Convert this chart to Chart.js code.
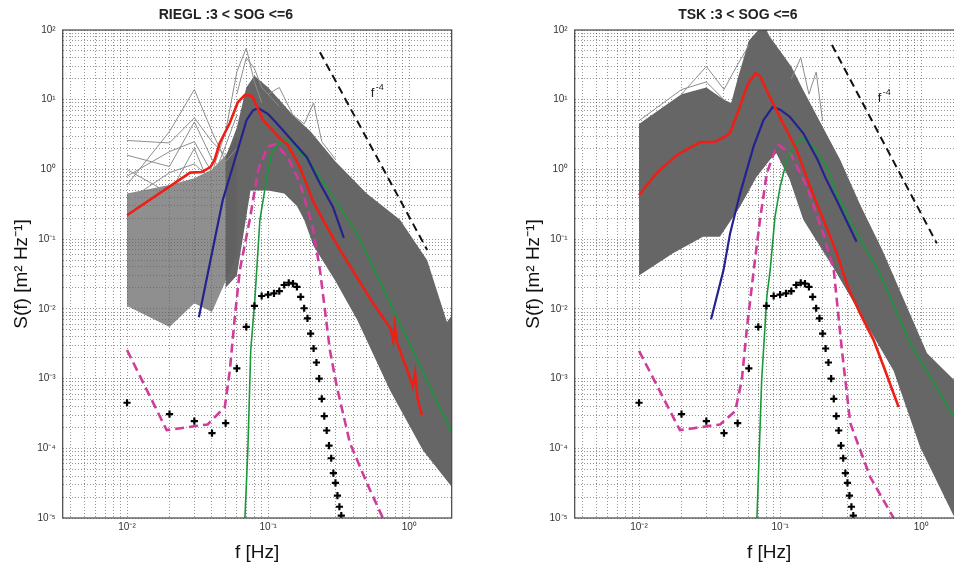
<!DOCTYPE html>
<html>
<head>
<meta charset="utf-8">
<script src="https://cdn.jsdelivr.net/npm/chart.js@4.4.0/dist/chart.umd.min.js"></script>
<style>
  html, body { margin: 0; padding: 0; background: #fff; width: 954px; height: 562px; overflow: hidden; }
  .panel { position: absolute; top: 0; width: 477px; height: 562px; }
  #p1 { left: 0; }
  #p2 { left: 512px; }
</style>
</head>
<body>
<div class="panel" id="p1"><canvas id="riegl" width="477" height="562"></canvas></div>
<div class="panel" id="p2"><canvas id="tsk" width="477" height="562"></canvas></div>
<script>
// ---- data (f in Hz, S in m^2/Hz) ----

// black "+" markers, same frequency grid on both panels
const plusFreq = [0.01, 0.02, 0.03, 0.04, 0.05, 0.06, 0.07, 0.08, 0.09, 0.10, 0.11, 0.12, 0.13, 0.14, 0.15, 0.16, 0.17,
  0.18, 0.19, 0.20, 0.21, 0.22, 0.23, 0.24, 0.25, 0.26, 0.27, 0.28, 0.29, 0.30, 0.31, 0.32, 0.33];
const plusS = [4.5e-4, 3.1e-4, 2.45e-4, 1.65e-4, 2.3e-4, 1.4e-3, 5.5e-3, 0.011, 0.0153, 0.016, 0.0167, 0.018, 0.022,
  0.0237, 0.023, 0.0207, 0.0149, 0.0102, 0.0073, 0.0044, 0.0027, 0.0017, 0.001, 5.1e-4, 2.9e-4, 1.8e-4, 1.09e-4,
  7.2e-5, 4.4e-5, 3.2e-5, 2.1e-5, 1.45e-5, 1.08e-5];

// RIEGL panel
const rieglLowBandF = [0.01, 0.02, 0.03, 0.04, 0.05, 0.06];
const rieglLowBandUp = [0.45, 0.6, 0.75, 1.0, 1.6, 3];
const rieglLowBandLo = [0.011, 0.0055, 0.012, 0.009, 0.025, 0.06];
const rieglBandUpF = [0.05, 0.06, 0.07, 0.08, 0.1, 0.12, 0.15, 0.2, 0.3, 0.5, 0.86, 1.34, 1.85, 2.0];
const rieglBandUp = [1.5, 4, 15, 22, 15, 10, 6, 3.5, 1.3, 0.45, 0.19, 0.05, 0.0065, 0.008];
const rieglBandLoF = [0.05, 0.06, 0.066, 0.075, 0.1, 0.13, 0.16, 0.18, 0.21, 0.3, 0.43, 0.73, 1.25, 2.0];
const rieglBandLo = [0.02, 0.03, 0.1, 0.5, 0.5, 0.45, 0.3, 0.19, 0.08, 0.025, 0.0068, 6.8e-4, 9.4e-5, 2.8e-5];
const rieglSparse = [
  { f: [0.01, 0.02, 0.03, 0.04, 0.05, 0.06], s: [0.6, 3.5, 14, 3.5, 1.3, 2] },
  { f: [0.01, 0.02, 0.03, 0.04, 0.05], s: [2.6, 2.4, 5.5, 2.5, 1.6] },
  { f: [0.01, 0.02, 0.03, 0.04, 0.05], s: [1.6, 1.1, 4.8, 1.4, 0.9] },
  { f: [0.01, 0.02, 0.03, 0.04, 0.05, 0.06, 0.07, 0.08, 0.09], s: [0.8, 1.8, 2.5, 0.9, 3.5, 25, 55, 18, 9] },
  { f: [0.01, 0.02, 0.03, 0.04, 0.05], s: [1.0, 0.45, 2.0, 0.5, 0.4] },
  { f: [0.01, 0.02, 0.03, 0.04, 0.05, 0.06], s: [0.35, 0.9, 1.2, 0.7, 2.2, 6] },
  { f: [0.1, 0.12, 0.15, 0.18, 0.21, 0.24, 0.3], s: [12, 15, 6, 4.5, 9, 2.5, 1.4] },
  { f: [0.06, 0.07, 0.08, 0.09, 0.1, 0.12], s: [12, 40, 28, 15, 12, 8] },
];
const rieglRedF = [0.01, 0.028, 0.034, 0.039, 0.0417, 0.0454, 0.0534, 0.061, 0.0685, 0.077, 0.092, 0.121, 0.138,
  0.168, 0.207, 0.244, 0.323, 0.425, 0.553, 0.74, 0.77, 0.79, 0.82, 1.0, 1.06, 1.1, 1.15, 1.23];
const rieglRedS = [0.22, 0.9, 0.92, 1.08, 1.37, 2.4, 4.6, 9.2, 11.7, 11.3, 5.1, 2.8, 2.24,
  1.08, 0.36, 0.19, 0.07, 0.0286, 0.0121, 0.0052, 0.0035, 0.0058, 0.0033, 0.0011, 0.00076, 0.0012, 0.0005, 0.0003];
const rieglBlueF = [0.0323, 0.0477, 0.06, 0.0703, 0.078, 0.085, 0.1, 0.115, 0.143, 0.188, 0.232, 0.288, 0.344];
const rieglBlueS = [0.0076, 0.364, 1.72, 5.1, 7.0, 7.6, 6.2, 4.6, 2.8, 1.5, 0.64, 0.29, 0.104];
const rieglGreenF = [0.0685, 0.0718, 0.0753, 0.0805, 0.0874, 0.098, 0.106, 0.121, 0.143, 0.198, 0.288, 0.425, 0.553, 2.0];
const rieglGreenS = [1e-5, 9.4e-5, 0.00257, 0.0134, 0.188, 0.78, 1.72, 2.47, 2.64, 1.24, 0.40, 0.122, 0.04, 1.7e-4];
const rieglPinkF = [0.01, 0.0191, 0.0373, 0.0493, 0.0535, 0.0578, 0.063, 0.074, 0.085, 0.099, 0.112, 0.138, 0.168,
  0.207, 0.233, 0.274, 0.307, 0.38, 0.5, 0.65];
const rieglPinkS = [0.00257, 1.82e-4, 2.2e-4, 3.9e-4, 1.3e-3, 0.0069, 0.036, 0.188, 0.98, 2.1, 2.3, 1.5, 0.64,
  0.15, 0.036, 0.00257, 7.6e-4, 1.19e-4, 3.2e-5, 1e-5];
const rieglSlopeF = [0.233, 1.34];
const rieglSlopeS = [48, 0.07];

// TSK panel
const tskBandUpF = [0.01, 0.015, 0.02, 0.03, 0.04, 0.045, 0.05, 0.06, 0.07, 0.08, 0.0845, 0.1, 0.12, 0.145, 0.19,
  0.267, 0.37, 0.53, 1.1, 1.71, 2.0];
const tskBandUp = [4.5, 8, 12, 15, 10, 9, 20, 70, 100, 100, 80, 50, 30, 14, 5, 1.36, 0.31, 0.07, 0.0023, 9.5e-4, 6e-4];
const tskBandLoF = [0.01, 0.0174, 0.0284, 0.0374, 0.0518, 0.068, 0.0845, 0.094, 0.117, 0.146, 0.244, 0.637, 0.98, 1.71, 2.0];
const tskBandLo = [0.03, 0.063, 0.108, 0.108, 0.29, 0.78, 1.36, 1.7, 0.71, 0.19, 0.036, 0.0013, 1.05e-4, 1.04e-5, 8e-6];
const tskSparse = [
  { f: [0.02, 0.03, 0.04, 0.05, 0.06], s: [12, 30, 14, 32, 60] },
  { f: [0.01, 0.02, 0.03, 0.04], s: [5, 14, 18, 10] },
  { f: [0.12, 0.14, 0.16, 0.18, 0.2], s: [20, 40, 12, 25, 5] },
];
const tskRedF = [0.01, 0.0133, 0.0184, 0.027, 0.0346, 0.04, 0.044, 0.0518, 0.0592, 0.067, 0.072, 0.082, 0.098, 0.131,
  0.163, 0.203, 0.252, 0.302, 0.369, 0.459, 0.541, 0.637, 0.692];
const tskRedS = [0.43, 0.88, 1.6, 2.45, 2.5, 2.9, 3.3, 7.9, 17, 24, 22, 12.4, 6, 1.9,
  0.565, 0.188, 0.063, 0.0206, 0.0086, 0.0036, 0.0015, 6.1e-4, 3.9e-4];
const tskBlueF = [0.0324, 0.0397, 0.0442, 0.052, 0.0647, 0.0762, 0.0887, 0.1, 0.117, 0.146, 0.185, 0.21, 0.251, 0.348];
const tskBlueS = [0.0071, 0.036, 0.121, 0.45, 2.1, 5.1, 7.9, 7.2, 5.7, 3.3, 1.36, 0.75, 0.364, 0.092];
const tskGreenF = [0.0685, 0.074, 0.0805, 0.085, 0.092, 0.1, 0.1115, 0.131, 0.143, 0.173, 0.215, 0.251, 0.33, 0.509,
  0.836, 1.71, 2.0];
const tskGreenS = [1e-5, 9.5e-4, 0.015, 0.036, 0.21, 0.565, 1.36, 2.37, 2.8, 2.1, 1.09, 0.45, 0.15, 0.032,
  0.0032, 2.8e-4, 1.5e-4];
const tskPinkF = [0.01, 0.0195, 0.0375, 0.048, 0.0535, 0.058, 0.065, 0.072, 0.0805, 0.092, 0.0975, 0.118, 0.155,
  0.202, 0.24, 0.274, 0.314, 0.434, 0.637];
const tskPinkS = [0.0025, 1.82e-4, 2.2e-4, 3.4e-4, 9.5e-4, 5e-3, 0.036, 0.19, 0.88, 1.9, 2.25, 1.7, 0.565,
  0.12, 0.036, 0.00257, 2.3e-4, 3.9e-5, 1e-5];
const tskSlopeF = [0.233, 1.29];
const tskSlopeS = [61, 0.087];

const FONT = '"Liberation Sans", Arial, Helvetica, sans-serif';
const SUP = { "-": "\u207B", "0": "\u2070", "1": "\u00B9", "2": "\u00B2", "3": "\u00B3", "4": "\u2074", "5": "\u2075" };

function xy(f, s) {
  return f.map((v, i) => ({ x: v, y: s[i] }));
}

// closed outline: upper edge left->right, lower edge right->left
function polygon(upF, up, loF, lo) {
  return xy(upF, up).concat(xy(loF, lo).reverse());
}

function powLabel(v) {
  const e = Math.log10(v);
  if (Math.abs(e - Math.round(e)) > 1e-6) return "";
  return "10" + String(Math.round(e)).split("").map((c) => SUP[c]).join("");
}

function logTicks(min, max) {
  const out = [];
  for (let e = Math.floor(Math.log10(min)); e <= Math.ceil(Math.log10(max)); e++) {
    for (let m = 1; m < 10; m++) {
      const v = +(m * Math.pow(10, e)).toPrecision(3);
      if (v >= min * 0.999 && v <= max * 1.001) out.push({ value: v });
    }
  }
  return out;
}

// frame round the plot + the f^-4 note
const framePlugin = {
  id: "frame",
  afterDatasetsDraw(chart, args, opts) {
    const { ctx, chartArea: a, scales } = chart;
    ctx.save();
    ctx.strokeStyle = "#444";
    ctx.lineWidth = 1.2;
    ctx.strokeRect(a.left, a.top, a.right - a.left, a.bottom - a.top);
    const px = scales.x.getPixelForValue(opts.f);
    const py = scales.y.getPixelForValue(opts.s);
    ctx.fillStyle = "#222";
    ctx.textBaseline = "alphabetic";
    ctx.font = "13px " + FONT;
    ctx.fillText("f", px - 4, py + 5);
    ctx.font = "9px " + FONT;
    ctx.fillText("-4", px + 1, py - 2);
    ctx.restore();
  },
};

function bandSet(data, color) {
  return { data, fill: "shape", backgroundColor: color, borderColor: "rgba(0,0,0,0)", borderWidth: 0,
    pointRadius: 0, order: 9 };
}

function lineSet(f, s, color, width, dash, order) {
  return { data: xy(f, s), borderColor: color, borderWidth: width, borderDash: dash || [], pointRadius: 0,
    fill: false, tension: 0, order };
}

function makePanel(id, title, p) {
  const datasets = [];
  datasets.push({ data: xy(plusFreq, plusS), showLine: false, pointStyle: "cross", pointRadius: 3.6,
    pointBorderWidth: 2.2, pointBorderColor: "#000", order: 0 });
  datasets.push(lineSet(p.redF, p.redS, "#ee1f16", 2.6, null, 1));
  datasets.push(lineSet(p.blueF, p.blueS, "#23238f", 2.2, null, 2));
  datasets.push(lineSet(p.greenF, p.greenS, "#17993a", 1.6, null, 3));
  datasets.push(lineSet(p.pinkF, p.pinkS, "#d03c9c", 2.6, [9, 5], 4));
  datasets.push(lineSet(p.slopeF, p.slopeS, "#111", 2, [8, 5], 5));
  p.sparse.forEach((l) => datasets.push(lineSet(l.f, l.s, "#8d8d8d", 1, null, 7)));
  p.bands.forEach((b) => datasets.push(bandSet(b.data, b.color)));

  return new Chart(document.getElementById(id), {
    type: "line",
    data: { datasets },
    plugins: [framePlugin],
    options: {
      responsive: false,
      animation: false,
      devicePixelRatio: 1,
      layout: { padding: { left: 0, right: 25.3, top: 0, bottom: 0 } },
      plugins: {
        legend: { display: false },
        tooltip: { enabled: false },
        title: {
          display: true,
          text: title,
          color: "#222",
          font: { family: FONT, size: 14, weight: "bold", lineHeight: 1.2 },
          padding: { top: 6.5, bottom: 6.7 },
        },
        frame: { f: p.noteF, s: p.noteS },
      },
      scales: {
        x: {
          type: "logarithmic",
          min: 0.0035,
          max: 2,
          afterBuildTicks: (sc) => { sc.ticks = logTicks(0.004, 2); },
          afterFit: (sc) => { sc.height = 44; },
          grid: { color: "rgba(60,60,60,0.55)", lineWidth: 1, drawTicks: false },
          border: { display: false, dash: [1, 2] },
          ticks: {
            autoSkip: false, maxRotation: 0, minRotation: 0, padding: 3, color: "#333",
            font: { family: FONT, size: 10 },
            callback: (v) => powLabel(v),
          },
          title: { display: true, text: "f [Hz]", color: "#111", padding: { top: 0, bottom: 0 },
            font: { family: FONT, size: 19, lineHeight: 1 } },
        },
        y: {
          type: "logarithmic",
          min: 1e-5,
          max: 100,
          afterBuildTicks: (sc) => { sc.ticks = logTicks(1e-5, 100); },
          afterFit: (sc) => { sc.width = 62.7; },
          grid: { color: "rgba(60,60,60,0.55)", lineWidth: 1, drawTicks: false },
          border: { display: false, dash: [1, 2] },
          ticks: {
            autoSkip: false, padding: 7, color: "#333",
            font: { family: FONT, size: 10 },
            callback: (v) => powLabel(v),
          },
          title: { display: true, text: "S(f) [m\u00B2 Hz\u207B\u00B9]", color: "#111",
            padding: { top: 12.5, bottom: 0 }, font: { family: FONT, size: 19, lineHeight: 1 } },
        },
      },
    },
  });
}

makePanel("riegl", "RIEGL :3 < SOG <=6", {
  redF: rieglRedF, redS: rieglRedS, blueF: rieglBlueF, blueS: rieglBlueS,
  greenF: rieglGreenF, greenS: rieglGreenS, pinkF: rieglPinkF, pinkS: rieglPinkS,
  slopeF: rieglSlopeF, slopeS: rieglSlopeS, noteF: 0.57, noteS: 12.9,
  sparse: rieglSparse,
  bands: [
    { data: polygon(rieglLowBandF, rieglLowBandUp, rieglLowBandF, rieglLowBandLo), color: "rgba(95,95,95,0.7)" },
    { data: polygon(rieglBandUpF, rieglBandUp, rieglBandLoF, rieglBandLo), color: "rgb(102,102,102)" },
  ],
});

makePanel("tsk", "TSK :3 < SOG <=6", {
  redF: tskRedF, redS: tskRedS, blueF: tskBlueF, blueS: tskBlueS,
  greenF: tskGreenF, greenS: tskGreenS, pinkF: tskPinkF, pinkS: tskPinkS,
  slopeF: tskSlopeF, slopeS: tskSlopeS, noteF: 0.525, noteS: 11,
  sparse: tskSparse,
  bands: [
    { data: polygon(tskBandUpF, tskBandUp, tskBandLoF, tskBandLo), color: "rgb(102,102,102)" },
  ],
});
</script>
</body>
</html>
